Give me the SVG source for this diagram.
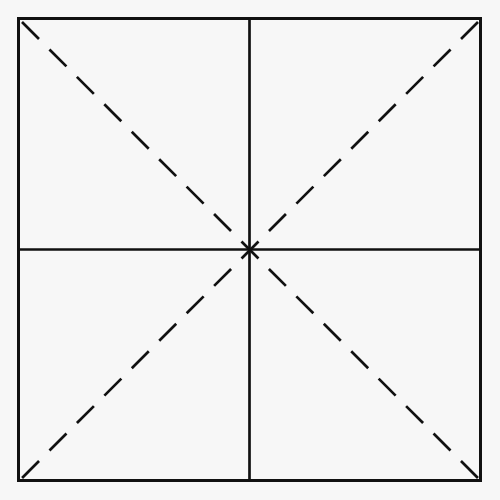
<svg xmlns="http://www.w3.org/2000/svg" width="500" height="500" viewBox="0 0 500 500">
  <style>
    .frame { fill: none; stroke: #111; stroke-width: 3; }
    .cross { stroke: #111; stroke-width: 2.7; }
    .diag { stroke: #111; stroke-width: 2.7; stroke-dasharray: 24 14.8; stroke-linecap: butt; }
  </style>
  <rect x="0" y="0" width="500" height="500" fill="#f7f7f7"/>
  <rect class="frame" x="18.5" y="18.5" width="462" height="462"/>
  <line class="cross" x1="249.5" y1="18.5" x2="249.5" y2="480.5"/>
  <line class="cross" x1="18.5" y1="249.5" x2="480.5" y2="249.5"/>
  <line class="diag" x1="22" y1="22" x2="478" y2="478"/>
  <line class="diag" x1="478" y1="22" x2="22" y2="478"/>
</svg>
